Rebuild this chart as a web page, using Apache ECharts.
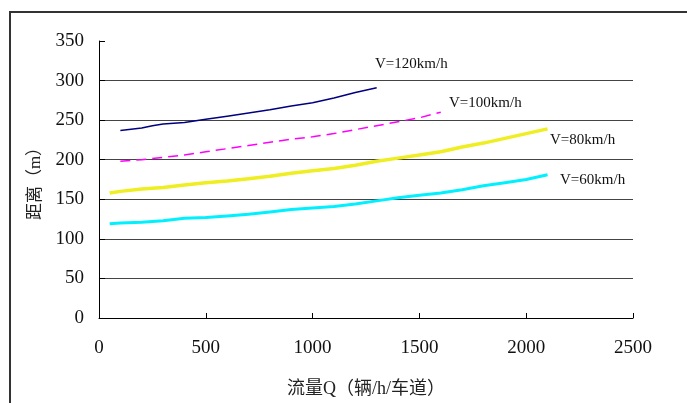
<!DOCTYPE html>
<html>
<head>
<meta charset="utf-8">
<script src="https://cdn.jsdelivr.net/npm/echarts@6/dist/echarts.min.js"></script>
<style>
html,body{margin:0;padding:0;background:#fff;}
#main{width:687px;height:403px;}
</style>
</head>
<body>
<div id="main"></div>
<script>
var xTicks = [0, 500, 1000, 1500, 2000, 2500];
var yTicks = [0, 50, 100, 150, 200, 250, 300, 350];

var q120 = [100, 200, 250, 300, 400, 500, 600, 700, 800, 900, 1000, 1100, 1200, 1300];
var v120 = [237, 240, 243, 245, 247, 251, 255, 259, 263, 268, 272, 278, 285, 291];

var q100 = [100, 200, 300, 400, 500, 600, 700, 800, 900, 1000, 1100, 1200, 1300, 1400, 1500, 1600];
var v100 = [198, 200, 203, 206, 210, 214, 218, 222, 226, 229, 233, 238, 243, 248, 253, 260];

var q80 = [50, 100, 200, 300, 400, 500, 600, 700, 800, 900, 1000, 1100, 1200, 1300, 1400, 1500, 1600, 1700, 1800, 1900, 2000, 2100];
var v80 = [158, 160, 163, 165, 168, 171, 173, 176, 179, 183, 186, 189, 193, 198, 202, 206, 210, 216, 221, 227, 233, 239];

var q60 = [50, 100, 200, 300, 400, 500, 600, 700, 800, 900, 1000, 1100, 1200, 1300, 1400, 1500, 1600, 1700, 1800, 1900, 2000, 2100];
var v60 = [119, 120, 121, 123, 126, 127, 129, 131, 134, 137, 139, 141, 144, 148, 152, 155, 158, 162, 167, 171, 175, 181];

var seriesNames = ['V=120km/h', 'V=100km/h', 'V=80km/h', 'V=60km/h'];

function pairs(xs, ys) { return xs.map(function (x, i) { return [x, ys[i]]; }); }

var FONT = '"Liberation Serif", "Noto Sans CJK SC", serif';
var chart = echarts.init(document.getElementById('main'), null, {renderer: 'canvas'});
chart.setOption({
  animation: false,
  backgroundColor: '#fff',
  grid: {left: 99, right: 54, top: 41, bottom: 81, containLabel: false},
  xAxis: {
    type: 'value', min: 0, max: 2500, interval: 500,
    name: '流量Q（辆/h/车道）', nameLocation: 'middle', nameGap: 62,
    nameTextStyle: {fontFamily: FONT, fontSize: 18, color: '#222'},
    axisLine: {show: true, lineStyle: {color: '#000', width: 1}},
    axisTick: {show: true, inside: true, length: 5, lineStyle: {color: '#000'}},
    axisLabel: {fontFamily: FONT, fontSize: 19, color: '#111', margin: 21,
      formatter: function (v) { return String(v); }},
    splitLine: {show: false}
  },
  yAxis: {
    type: 'value', min: 0, max: 350, interval: 50,
    name: '距离（m）', nameLocation: 'middle', nameGap: 55, nameRotate: 90,
    nameTextStyle: {fontFamily: FONT, fontSize: 17, color: '#222'},
    axisLine: {show: true, lineStyle: {color: '#000', width: 1}},
    axisTick: {show: true, inside: true, length: 6, lineStyle: {color: '#000'}},
    axisLabel: {fontFamily: FONT, fontSize: 19, color: '#111', margin: 15,
      formatter: function (v) { return String(v); }},
    splitLine: {show: true, showMinLine: false, showMaxLine: false, lineStyle: {color: '#444', width: 1}}
  },
  series: [
    {name: seriesNames[0], type: 'line', data: pairs(q120, v120), showSymbol: false,
     lineStyle: {color: '#000080', width: 1.5}},
    {name: seriesNames[1], type: 'line', data: pairs(q100, v100), showSymbol: false,
     lineStyle: {color: '#ff00ff', width: 1.5, type: [10, 6]}},
    {name: seriesNames[2], type: 'line', data: pairs(q80, v80), showSymbol: false,
     lineStyle: {color: '#eeee22', width: 3.5}},
    {name: seriesNames[3], type: 'line', data: pairs(q60, v60), showSymbol: false,
     lineStyle: {color: '#00f0ff', width: 3}}
  ],
  graphic: [
    {type: 'rect', shape: {x: 10, y: 12, width: 700, height: 420},
     style: {fill: 'none', stroke: '#333', lineWidth: 2}, z: 100},
    {type: 'text', left: 375, top: 57, style: {text: seriesNames[0], font: '15px ' + FONT, fill: '#111'}},
    {type: 'text', left: 449, top: 96, style: {text: seriesNames[1], font: '15px ' + FONT, fill: '#111'}},
    {type: 'text', left: 550, top: 133, style: {text: seriesNames[2], font: '15px ' + FONT, fill: '#111'}},
    {type: 'text', left: 560, top: 173, style: {text: seriesNames[3], font: '15px ' + FONT, fill: '#111'}}
  ]
});
</script>
</body>
</html>
